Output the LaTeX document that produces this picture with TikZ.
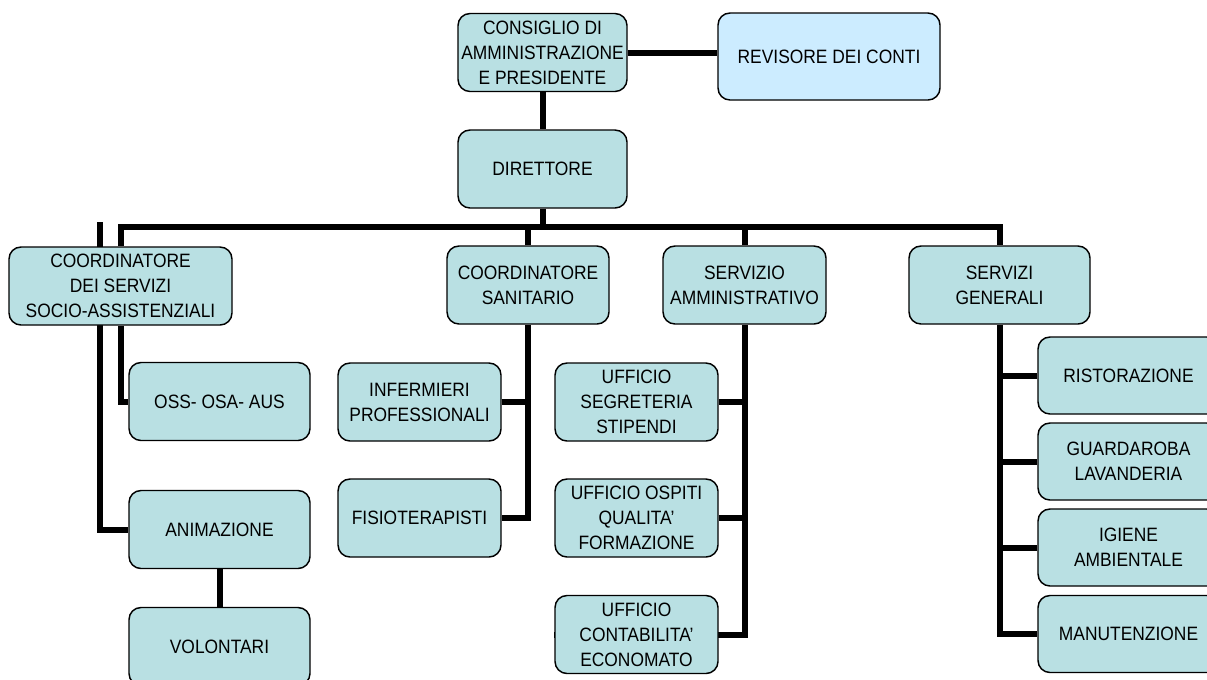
\documentclass[tikz,border=0pt]{standalone}
\usepackage{fontspec}
\setmainfont{Liberation Sans}[FakeStretch=0.9]
\usetikzlibrary{backgrounds}
\definecolor{boxfill}{RGB}{185,224,227}
\definecolor{revfill}{RGB}{204,236,255}

\begin{document}
\begin{tikzpicture}[x=0.75pt,y=-0.75pt,
    box/.style={draw,line width=1.1pt,rounded corners=9pt,fill=boxfill,align=center,
      minimum height=58.5pt,inner sep=1pt,font=\fontsize{14.5}{18.7}\selectfont},
    link/.style={line width=4.5pt}]
    \useasboundingbox (0,0) rectangle (1207,679);

    \node[box,minimum width=126.75pt] (Cons) at (542.5,52.5) {CONSIGLIO DI\\AMMINISTRAZIONE\\E PRESIDENTE};
    \node[box,fill=revfill,minimum width=166.5pt,minimum height=65.25pt] (Rev) at (829,56.5) {REVISORE DEI CONTI};
    \node[box,minimum width=126.75pt] (Dir) at (542.5,169) {DIRETTORE};

    \node[box,minimum width=167.25pt] (Css) at (120.5,286) {COORDINATORE\\DEI SERVIZI\\SOCIO-ASSISTENZIALI};
    \node[box,minimum width=121.5pt] (Csan) at (528,285) {COORDINATORE\\SANITARIO};
    \node[box,minimum width=122.25pt] (Samm) at (744.5,285) {SERVIZIO\\AMMINISTRATIVO};
    \node[box,minimum width=135.75pt] (Sgen) at (999.5,285) {SERVIZI\\GENERALI};

    \node[box,minimum width=135.75pt] (Oss) at (219.5,401.5) {OSS- OSA- AUS};
    \node[box,minimum width=135.75pt] (Anim) at (219.5,529.5) {ANIMAZIONE};
    \node[box,minimum width=135.75pt] (Vol) at (219.5,646.5) {VOLONTARI};

    \node[box,minimum width=122.25pt] (Inf) at (419.5,402) {INFERMIERI\\PROFESSIONALI};
    \node[box,minimum width=122.25pt] (Fis) at (419.5,518) {FISIOTERAPISTI};

    \node[box,minimum width=122.25pt] (Useg) at (636.5,402) {UFFICIO\\SEGRETERIA\\STIPENDI};
    \node[box,minimum width=122.25pt] (Uosp) at (636.5,518) {UFFICIO OSPITI\\QUALITA'\\FORMAZIONE};
    \node[box,minimum width=122.25pt] (Ucon) at (636.5,634.5) {UFFICIO\\CONTABILITA'\\ECONOMATO};

    \node[box,minimum width=135.75pt,minimum height=57.75pt] (Rist) at (1128.5,375.5) {RISTORAZIONE};
    \node[box,minimum width=135.75pt,minimum height=57.75pt] (Guar) at (1128.5,461.5) {GUARDAROBA\\LAVANDERIA};
    \node[box,minimum width=135.75pt,minimum height=57.75pt] (Igie) at (1128.5,547.5) {IGIENE\\AMBIENTALE};
    \node[box,minimum width=135.75pt,minimum height=57.75pt] (Manu) at (1128.5,634) {MANUTENZIONE};

    \coordinate (Bar) at (0,227);
    \coordinate (Top) at (100,222);

    \begin{scope}[on background layer]
    \draw[link] (Cons.east) -- (Cons.east -| Rev.west);
    \draw[link] (Cons.south) -- (Dir.north);
    \draw[link] (Dir.south) -- (Dir.south |- Bar);
    \draw[link] (Css.north) |- (Sgen.north |- Bar) -- (Sgen.north);
    \draw[link] (Csan.north) -- (Csan.north |- Bar);
    \draw[link] (Samm.north) -- (Samm.north |- Bar);

    \draw[link] (Top) |- (Anim.west);
    \draw[link] (Css.south) |- (Oss.west);
    \draw[link] (Anim.south) -- (Vol.north);

    \draw[link] (Csan.south) |- (Fis.east);
    \draw[link] (Inf.east) -- (Inf.east -| Csan.south);

    \draw[link] (Samm.south) |- (Ucon.west);
    \draw[link] (Useg.east) -- (Useg.east -| Samm.south);
    \draw[link] (Uosp.east) -- (Uosp.east -| Samm.south);

    \draw[link] (Sgen.south) |- (Manu.west);
    \draw[link] (Rist.west) -- (Rist.west -| Sgen.south);
    \draw[link] (Guar.west) -- (Guar.west -| Sgen.south);
    \draw[link] (Igie.west) -- (Igie.west -| Sgen.south);
    \end{scope}
\end{tikzpicture}
\end{document}
